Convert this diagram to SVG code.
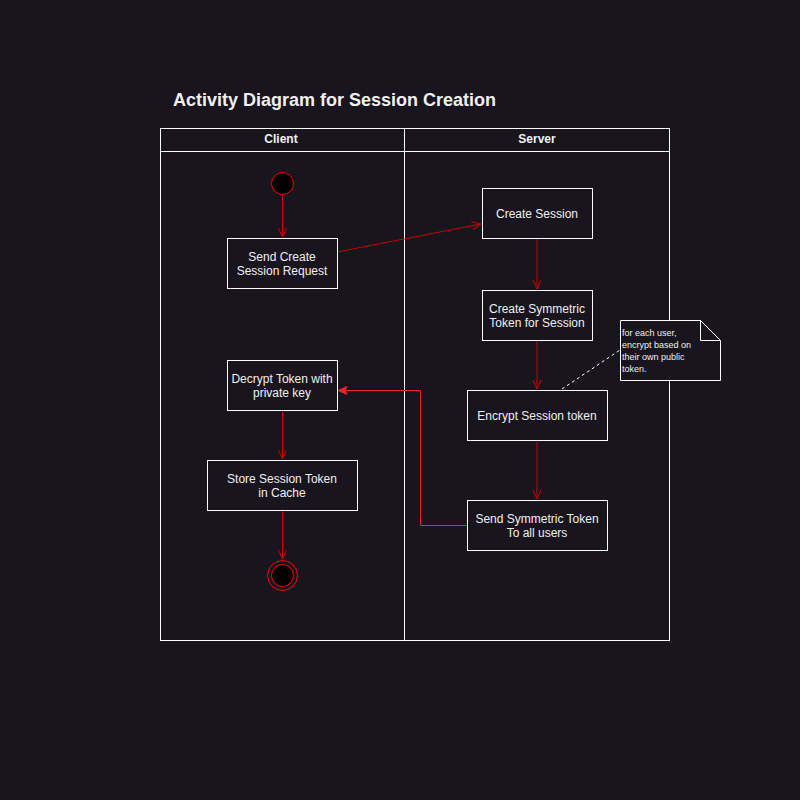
<svg xmlns="http://www.w3.org/2000/svg" width="800" height="800" viewBox="0 0 800 800">
<style>
text{font-family:"Liberation Sans",Arial,sans-serif;fill:#f0f0f0}
.box{fill:#18151e;stroke:#ffffff;stroke-width:1}
.lbl{font-size:12px;text-anchor:middle}
.hdr{font-size:12px;font-weight:bold;text-anchor:middle}
.edge{fill:none;stroke:#cc0000;stroke-width:1}
.note{font-size:9px}
</style>
<defs>
<marker id="open" markerWidth="12" markerHeight="12" refX="10" refY="5" orient="auto" markerUnits="userSpaceOnUse">
<path d="M1,1 L10,5 L1,9" fill="none" stroke="#cc0000" stroke-width="1"/>
</marker>
<marker id="block" markerWidth="12" markerHeight="12" refX="10" refY="5" orient="auto" markerUnits="userSpaceOnUse">
<path d="M1,1 L10,5 L1,9 L3,5 Z" fill="#e02828" stroke="#e02828" stroke-width="1"/>
</marker>
</defs>
<rect width="800" height="800" fill="#18151e"/>
<text x="173" y="106" style="font-size:18px;font-weight:bold">Activity Diagram for Session Creation</text>
<g id="pool">
<rect x="160.5" y="128.5" width="509" height="512" fill="none" stroke="#ffffff"/>
<line x1="160.5" y1="151.5" x2="669.5" y2="151.5" stroke="#ffffff"/>
<line x1="404.5" y1="128.5" x2="404.5" y2="640.5" stroke="#ffffff"/>
<text class="hdr" x="281" y="143">Client</text>
<text class="hdr" x="537" y="143">Server</text>
</g>
<g id="connectors">
<line class="edge" x1="282.5" y1="195" x2="282.5" y2="237" marker-end="url(#open)"/>
<line class="edge" x1="337" y1="252" x2="481" y2="224" marker-end="url(#open)"/>
<line class="edge" x1="537" y1="239" x2="537" y2="289" marker-end="url(#open)"/>
<line class="edge" x1="537" y1="341" x2="537" y2="389" marker-end="url(#open)"/>
<line class="edge" x1="537" y1="441" x2="537" y2="499" marker-end="url(#open)"/>
<path d="M467,525.5 H420.5 V390.5 H338" fill="none" stroke="#e02828" stroke-width="1" marker-end="url(#block)"/>
<line class="edge" x1="282.5" y1="411" x2="282.5" y2="459" marker-end="url(#open)"/>
<line class="edge" x1="282.5" y1="511" x2="282.5" y2="559" marker-end="url(#open)"/>
<line x1="562" y1="389" x2="620" y2="350" stroke="#ffffff" stroke-dasharray="3,3"/>
</g>
<g id="start">
<circle cx="282.5" cy="183.5" r="11" fill="#000000" stroke="#ff0000"/>
</g>
<g id="sendCreate">
<rect class="box" x="227.5" y="238.5" width="110" height="50"/>
<text class="lbl" x="282" y="261">Send Create</text>
<text class="lbl" x="282" y="275">Session Request</text>
</g>
<g id="createSession">
<rect class="box" x="482.5" y="188.5" width="110" height="50"/>
<text class="lbl" x="537" y="218">Create Session</text>
</g>
<g id="createSymmetric">
<rect class="box" x="482.5" y="290.5" width="110" height="50"/>
<text class="lbl" x="537" y="313">Create Symmetric</text>
<text class="lbl" x="537" y="327">Token for Session</text>
</g>
<g id="encrypt">
<rect class="box" x="467.5" y="390.5" width="140" height="50"/>
<text class="lbl" x="537" y="420">Encrypt Session token</text>
</g>
<g id="sendSymmetric">
<rect class="box" x="467.5" y="500.5" width="140" height="50"/>
<text class="lbl" x="537" y="523">Send Symmetric Token</text>
<text class="lbl" x="537" y="537">To all users</text>
</g>
<g id="decrypt">
<rect class="box" x="227.5" y="360.5" width="110" height="50"/>
<text class="lbl" x="282" y="383">Decrypt Token with</text>
<text class="lbl" x="282" y="397">private key</text>
</g>
<g id="store">
<rect class="box" x="207.5" y="460.5" width="150" height="50"/>
<text class="lbl" x="282" y="483">Store Session Token</text>
<text class="lbl" x="282" y="497">in Cache</text>
</g>
<g id="end">
<circle cx="282.5" cy="575.5" r="15" fill="none" stroke="#ff0000"/>
<circle cx="282.5" cy="575.5" r="11" fill="#000000" stroke="#ff0000"/>
</g>
<g id="note">
<path d="M620.5,320.5 H700.5 L720.5,340.5 V380.5 H620.5 Z" fill="#18151e" stroke="#ffffff"/>
<path d="M700.5,320.5 V340.5 H720.5" fill="none" stroke="#ffffff"/>
<text class="note" x="622" y="336">for each user,</text>
<text class="note" x="622" y="348">encrypt based on</text>
<text class="note" x="622" y="360">their own public</text>
<text class="note" x="622" y="372">token.</text>
</g>
</svg>
